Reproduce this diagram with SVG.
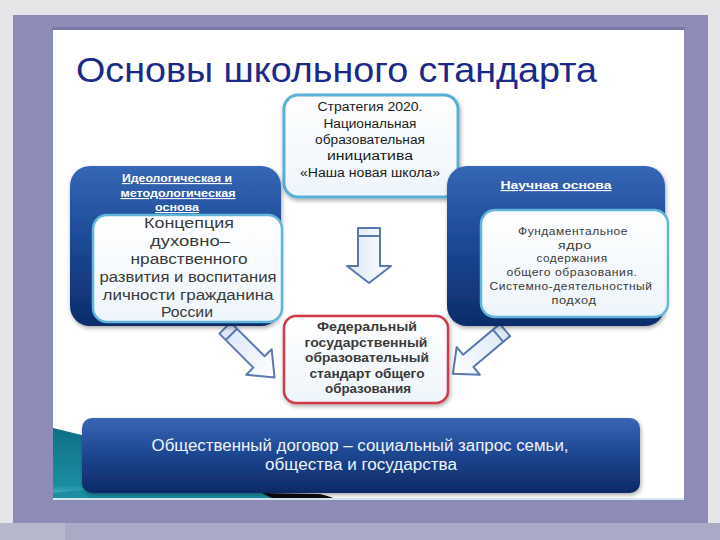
<svg xmlns="http://www.w3.org/2000/svg" width="720" height="540" viewBox="0 0 720 540">
<defs>
<linearGradient id="blueBox" x1="0" y1="0" x2="0" y2="1">
<stop offset="0" stop-color="#3567b5"/>
<stop offset="0.5" stop-color="#1b4793"/>
<stop offset="1" stop-color="#0d2c6a"/>
</linearGradient>
<linearGradient id="bottomBox" x1="0" y1="0" x2="0" y2="1">
<stop offset="0" stop-color="#3a66b4"/>
<stop offset="0.45" stop-color="#1f4894"/>
<stop offset="1" stop-color="#0c2a66"/>
</linearGradient>
<linearGradient id="whiteBox" x1="0" y1="0" x2="0" y2="1">
<stop offset="0" stop-color="#ffffff"/>
<stop offset="1" stop-color="#eef5fa"/>
</linearGradient>
<linearGradient id="arrowFill" x1="0" y1="0" x2="1" y2="0">
<stop offset="0" stop-color="#dbe6f6"/>
<stop offset="1" stop-color="#ffffff"/>
</linearGradient>
<linearGradient id="teal" x1="0" y1="0" x2="0" y2="1">
<stop offset="0" stop-color="#0f6f86"/>
<stop offset="0.8" stop-color="#1b8ea2"/>
<stop offset="1" stop-color="#62c3d6"/>
</linearGradient>
<filter id="shadow" x="-10%" y="-10%" width="120%" height="125%">
<feDropShadow dx="1" dy="2" stdDeviation="2" flood-color="#000" flood-opacity="0.35"/>
</filter>
<style>
.t {font-family:"Liberation Sans",Arial,sans-serif; text-anchor:middle}
.hdr {font-family:"Liberation Sans",Arial,sans-serif; font-weight:bold; font-size:11.5px; fill:#ffffff; text-anchor:middle; text-decoration:underline}
.big {font-size:15.5px; fill:#3a3a3a}
.sm {font-size:11.5px; fill:#3a3a3a; letter-spacing:0.5px}
.top {font-size:12.5px; fill:#1a1a1a}
.red {font-size:12.5px; font-weight:bold; fill:#3a3a3a}
.inner {fill:url(#whiteBox); stroke:#5fb6da; stroke-width:2.5}
.arrow {fill:url(#arrowFill); stroke:#5a78b0; stroke-width:2; stroke-linejoin:round}
</style>
</defs>

<!-- background and frame -->
<rect x="0" y="0" width="720" height="540" fill="#e5e5e7"/>
<rect x="13" y="15" width="695" height="508" fill="#8c8cb6"/>
<rect x="0" y="523" width="720" height="17" fill="#a9abc6"/>
<rect x="0" y="523" width="65" height="17" fill="#b6b7cd"/>
<rect x="52" y="27" width="633" height="4" fill="#7a7aa6"/>
<rect x="53" y="30" width="631" height="470" fill="#ffffff"/>

<!-- decoration -->
<path d="M53,428 L90,437 L90,500 L53,500 Z" fill="url(#teal)"/>
<path d="M80,490 L270,493 L270,500 L53,500 L53,493 Z" fill="#1b8ea2"/>
<path d="M262,493 L320,494 Q332,497 338,500 L275,500 Z" fill="#0a0a12"/>
<rect x="53" y="498" width="631" height="2" fill="#d6e6ee"/>

<!-- title -->
<text x="76" y="82" font-family="Liberation Sans, Arial, sans-serif" font-size="35" fill="#1b2a8a" textLength="521" lengthAdjust="spacingAndGlyphs">Основы школьного стандарта</text>

<!-- connectors -->
<g id="connectors">
<path class="arrow" d="M358,228 L380,228 L380,266 L391,266 L369,283 L347,266 L358,266 Z"/>
<line x1="358" y1="236" x2="380" y2="236" stroke="#5a78b0" stroke-width="2"/>
<g transform="translate(225,328) rotate(45)">
<path class="arrow" d="M0,-8 L48,-8 L48,-18 L70,0 L48,18 L48,8 L0,8 Z"/>
<line x1="9" y1="-8" x2="9" y2="8" stroke="#5a78b0" stroke-width="2"/>
</g>
<g transform="translate(505,330) rotate(140)">
<path class="arrow" d="M0,-8 L48,-8 L48,-18 L68,0 L48,18 L48,8 L0,8 Z"/>
<line x1="9" y1="-8" x2="9" y2="8" stroke="#5a78b0" stroke-width="2"/>
</g>
</g>

<!-- top center node -->
<g id="strategy">
<rect x="284" y="95" width="174" height="102" rx="14" fill="url(#whiteBox)" stroke="#5aafd6" stroke-width="3" filter="url(#shadow)"/>
<text class="t top" x="370" y="111" textLength="105" lengthAdjust="spacingAndGlyphs">Стратегия 2020.</text>
<text class="t top" x="370" y="128" textLength="93" lengthAdjust="spacingAndGlyphs">Национальная</text>
<text class="t top" x="370" y="144" textLength="110" lengthAdjust="spacingAndGlyphs">образовательная</text>
<text class="t top" x="370" y="160" textLength="86" lengthAdjust="spacingAndGlyphs">инициатива</text>
<text class="t top" x="370" y="177" textLength="140" lengthAdjust="spacingAndGlyphs">«Наша новая школа»</text>
</g>

<!-- left node -->
<g id="ideological">
<rect x="70" y="166" width="211" height="160" rx="20" fill="url(#blueBox)" filter="url(#shadow)"/>
<text class="hdr" x="177" y="182" textLength="110" lengthAdjust="spacingAndGlyphs">Идеологическая и</text>
<text class="hdr" x="178" y="197" textLength="115" lengthAdjust="spacingAndGlyphs">методологическая</text>
<text class="hdr" x="177" y="211" textLength="44" lengthAdjust="spacingAndGlyphs">основа</text>
<rect class="inner" x="93" y="215" width="189" height="107" rx="14"/>
<text class="t big" x="189" y="228" textLength="90" lengthAdjust="spacingAndGlyphs">Концепция</text>
<text class="t big" x="190" y="246" textLength="80" lengthAdjust="spacingAndGlyphs">духовно–</text>
<text class="t big" x="189" y="264" textLength="117" lengthAdjust="spacingAndGlyphs">нравственного</text>
<text class="t big" x="188" y="282" textLength="177" lengthAdjust="spacingAndGlyphs">развития и воспитания</text>
<text class="t big" x="188" y="300" textLength="171" lengthAdjust="spacingAndGlyphs">личности гражданина</text>
<text class="t big" x="187" y="317" textLength="52" lengthAdjust="spacingAndGlyphs">России</text>
</g>

<!-- right node -->
<g id="scientific">
<rect x="447" y="166" width="218" height="160" rx="20" fill="url(#blueBox)" filter="url(#shadow)"/>
<text class="hdr" x="556" y="189" textLength="111" lengthAdjust="spacingAndGlyphs">Научная основа</text>
<rect class="inner" x="481" y="210" width="187" height="107" rx="14"/>
<text class="t sm" x="573" y="235" textLength="110" lengthAdjust="spacingAndGlyphs">Фундаментальное</text>
<text class="t sm" x="575" y="249" textLength="34" lengthAdjust="spacingAndGlyphs">ядро</text>
<text class="t sm" x="572" y="262" textLength="71" lengthAdjust="spacingAndGlyphs">содержания</text>
<text class="t sm" x="572" y="276" textLength="131" lengthAdjust="spacingAndGlyphs">общего образования.</text>
<text class="t sm" x="571" y="290" textLength="163" lengthAdjust="spacingAndGlyphs">Системно-деятельностный</text>
<text class="t sm" x="574" y="304" textLength="45" lengthAdjust="spacingAndGlyphs">подход</text>
</g>

<!-- federal standard node -->
<g id="standard">
<rect x="284" y="316" width="164" height="87" rx="12" fill="url(#whiteBox)" stroke="#cf3a48" stroke-width="2.5" filter="url(#shadow)"/>
<text class="t red" x="367" y="331" textLength="100" lengthAdjust="spacingAndGlyphs">Федеральный</text>
<text class="t red" x="366" y="347" textLength="123" lengthAdjust="spacingAndGlyphs">государственный</text>
<text class="t red" x="367" y="362" textLength="124" lengthAdjust="spacingAndGlyphs">образовательный</text>
<text class="t red" x="367" y="378" textLength="115" lengthAdjust="spacingAndGlyphs">стандарт общего</text>
<text class="t red" x="368" y="393" textLength="86" lengthAdjust="spacingAndGlyphs">образования</text>
</g>

<!-- bottom node -->
<g id="social">
<rect x="82" y="418" width="558" height="75" rx="10" fill="url(#bottomBox)" filter="url(#shadow)"/>
<text class="t" x="360" y="451" font-size="16" fill="#eef2fa" textLength="417" lengthAdjust="spacingAndGlyphs">Общественный договор – социальный запрос семьи,</text>
<text class="t" x="361" y="470" font-size="16" fill="#eef2fa" textLength="192" lengthAdjust="spacingAndGlyphs">общества и государства</text>
</g>
</svg>
